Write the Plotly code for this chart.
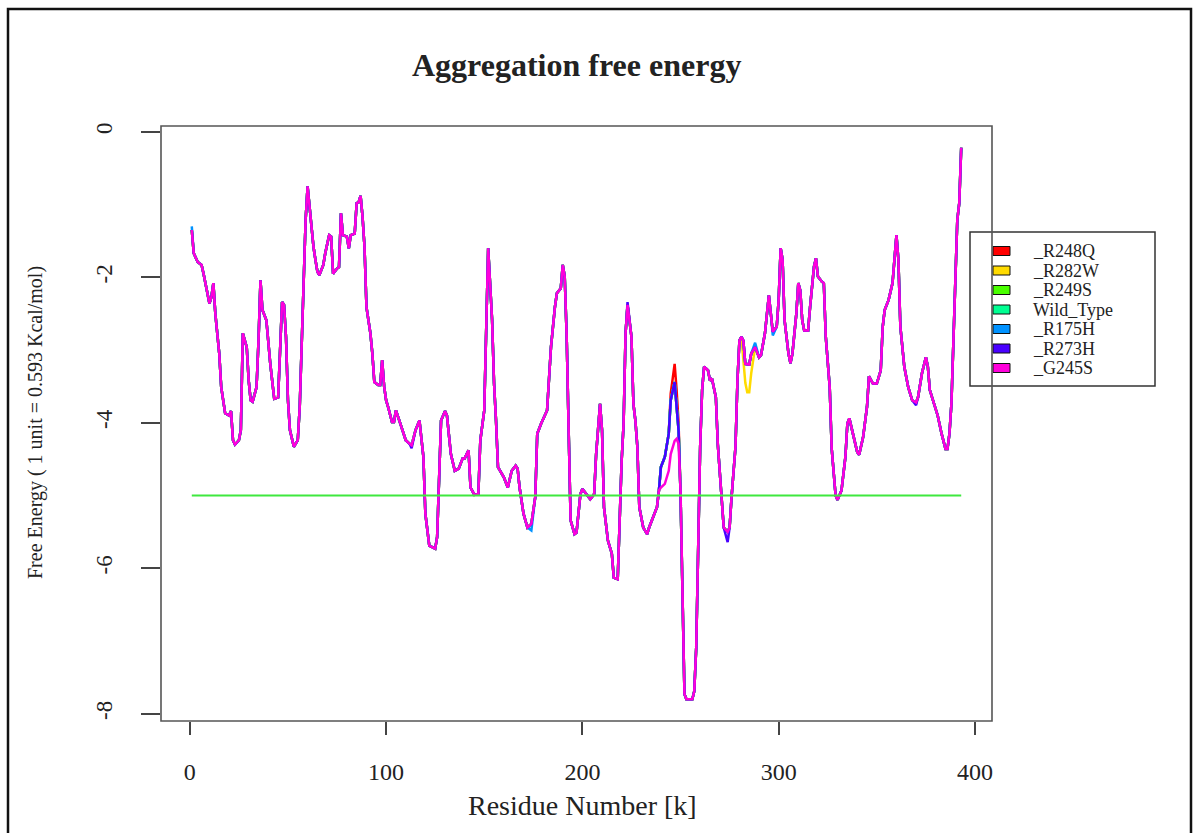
import plotly.graph_objects as go

# ---- data -------------------------------------------------------------
residue = [
    1, 2, 4, 6, 7, 10, 11, 12, 13, 15, 16, 18, 20, 21, 22, 23, 25, 26, 27, 28,
    29, 30, 31, 32, 34, 35, 36, 37, 39, 41, 43, 45, 46, 47, 48, 49, 50, 51, 53, 55,
    56, 57, 58, 59, 60, 61, 63, 64, 65, 66, 68, 69, 71, 72, 73, 75, 76, 77, 78, 80,
    81, 82, 84, 85, 86, 87, 88, 89, 90, 92, 93, 94, 96, 97, 98, 99, 100, 101, 103, 104,
    105, 107, 109, 110, 112, 113, 115, 117, 119, 120, 122, 125, 126, 127, 128, 130, 131, 133, 135, 137,
    139, 140, 142, 143, 145, 147, 148, 150, 151, 152, 154, 155, 156, 157, 160, 162, 164, 166, 167, 168,
    170, 172, 174, 176, 177, 179, 182, 183, 184, 186, 187, 189, 190, 191, 192, 193, 194, 196, 197, 199,
    200, 202, 204, 206, 207, 209, 210, 211, 213, 215, 216, 218, 219, 220, 221, 222, 223, 225, 226, 227,
    228, 229, 231, 233, 234, 236, 238, 239, 240, 242, 244, 245, 246, 247, 248, 249, 250, 251, 252, 253,
    256, 257, 258, 259, 260, 261, 262, 264, 265, 266, 268, 269, 271, 272, 274, 275, 276, 278, 279, 280,
    281, 282, 283, 284, 285, 286, 288, 290, 291, 293, 294, 295, 296, 297, 299, 300, 301, 302, 303, 305,
    306, 307, 309, 310, 311, 312, 313, 315, 316, 318, 319, 320, 322, 323, 324, 326, 327, 329, 330, 332,
    334, 335, 336, 338, 340, 341, 343, 345, 346, 348, 350, 352, 353, 354, 356, 358, 359, 360, 361, 362,
    364, 366, 368, 370, 371, 373, 375, 376, 377, 379, 381, 383, 385, 386, 387, 388, 389, 390, 391, 392,
    393,
]

# G245S profile (kcal units of 0.593)
energy_g245s = [
    -1.35, -1.67, -1.79, -1.83, -1.95, -2.36, -2.27, -2.08, -2.50, -3.05, -3.51, -3.87, -3.90, -3.84, -4.24, -4.30, -4.24, -4.10, -2.77, -2.87,
    -2.96, -3.42, -3.69, -3.71, -3.51, -2.87, -2.04, -2.45, -2.59, -3.19, -3.67, -3.65, -3.05, -2.34, -2.38, -2.82, -3.69, -4.10, -4.33, -4.24,
    -3.78, -2.82, -1.95, -1.21, -0.75, -1.03, -1.58, -1.76, -1.92, -1.97, -1.83, -1.67, -1.42, -1.44, -1.95, -1.88, -1.86, -1.12, -1.42, -1.44,
    -1.60, -1.42, -1.40, -0.98, -0.97, -0.88, -1.17, -1.58, -2.41, -2.77, -3.05, -3.44, -3.48, -3.48, -3.14, -3.50, -3.69, -3.78, -3.99, -3.99,
    -3.83, -3.99, -4.15, -4.24, -4.29, -4.31, -4.10, -3.97, -4.47, -5.25, -5.69, -5.73, -5.57, -4.79, -3.97, -3.84, -3.90, -4.43, -4.66, -4.63,
    -4.49, -4.49, -4.38, -4.89, -4.99, -4.98, -4.24, -3.83, -2.54, -1.60, -2.59, -3.46, -3.97, -4.61, -4.75, -4.89, -4.66, -4.59, -4.63, -4.89,
    -5.25, -5.44, -5.39, -5.02, -4.15, -4.01, -3.83, -3.42, -2.96, -2.41, -2.22, -2.15, -1.83, -1.99, -2.82, -4.10, -5.34, -5.53, -5.51, -4.98,
    -4.91, -4.98, -5.05, -4.98, -4.43, -3.74, -4.10, -5.16, -5.62, -5.80, -6.13, -6.15, -5.30, -4.52, -4.01, -2.77, -2.38, -2.82, -3.74, -3.97,
    -4.33, -5.16, -5.44, -5.53, -5.44, -5.30, -5.16, -4.93, -4.89, -4.84, -4.66, -4.43, -4.35, -4.25, -4.22, -4.29, -4.93, -6.17, -7.73, -7.80,
    -7.80, -7.69, -7.09, -5.71, -4.33, -3.55, -3.23, -3.28, -3.42, -3.39, -3.65, -4.30, -5.16, -5.44, -5.50, -5.44, -5.02, -4.33, -3.42, -2.87,
    -2.82, -2.87, -3.19, -3.20, -3.20, -3.05, -2.96, -3.10, -3.07, -2.77, -2.45, -2.25, -2.50, -2.75, -2.68, -2.31, -1.60, -1.76, -2.59, -3.05,
    -3.18, -3.05, -2.50, -2.08, -2.18, -2.59, -2.73, -2.73, -2.41, -1.85, -1.74, -1.99, -2.06, -2.08, -2.82, -3.51, -4.35, -5.00, -5.06, -4.93,
    -4.47, -4.01, -3.94, -4.15, -4.40, -4.44, -4.20, -3.78, -3.36, -3.46, -3.46, -3.28, -2.68, -2.45, -2.31, -2.08, -1.76, -1.42, -1.76, -2.68,
    -3.23, -3.51, -3.69, -3.72, -3.65, -3.32, -3.10, -3.23, -3.55, -3.74, -3.90, -4.15, -4.36, -4.36, -4.15, -3.74, -2.82, -1.90, -1.21, -0.98,
    -0.22,
]

# residues where the other variants leave the G245S profile
shared_240_250 = {240: -4.61, 242: -4.47, 244: -4.15, 245: -3.69, 246: -3.55,
                  247: -3.44, 248: -3.78, 249: -4.10, 250: -4.97}

variant_names = ["_R248Q", "_R282W", "_R249S", "Wild_Type", "_R175H", "_R273H", "_G245S"]
variant_colors = ["#FF0000", "#FFDB00", "#49FF00", "#00FF92", "#0092FF", "#4900FF", "#FF00DB"]

variant_changes = {
    "_R248Q": {**shared_240_250, 245: -3.60, 246: -3.40, 247: -3.19, 248: -3.55, 249: -4.00},
    "_R282W": {**shared_240_250, 282: -3.14, 283: -3.45, 284: -3.58, 285: -3.58, 286: -3.32},
    "_R249S": dict(shared_240_250),
    "Wild_Type": dict(shared_240_250),
    "_R175H": {**shared_240_250, 1: -1.30, 174: -5.48, 288: -2.90, 297: -2.80},
    "_R273H": {**shared_240_250, 113: -4.35, 223: -2.34, 274: -5.64, 370: -3.76},
    "_G245S": {},
}

threshold = -5.0

x_ticks = [0, 100, 200, 300, 400]
y_ticks = [-8, -6, -4, -2, 0]
y_tick_text = ["-8", "-6", "-4", "-2", "0"]

# ---- figure -------------------------------------------------------------
W, H = 1194, 833
L, R, T, B = 161, 992, 126, 721          # plot box in pixels


def px(xpix):
    return (xpix - L) / (R - L)


def py(ypix):
    return (B - ypix) / (B - T)


SERIF = "Liberation Serif, Times New Roman, serif"
INK = "#222222"

fig = go.Figure()

for name, color in zip(variant_names, variant_colors):
    changes = variant_changes[name]
    values = [changes.get(r, v) for r, v in zip(residue, energy_g245s)]
    fig.add_trace(go.Scatter(
        x=residue, y=values, mode="lines", name=name,
        line=dict(color=color, width=2.5), showlegend=False,
    ))

fig.add_trace(go.Scatter(
    x=[residue[0], residue[-1]], y=[threshold, threshold], mode="lines",
    line=dict(color="#3FE83F", width=1.8), showlegend=False,
))

shapes = []
annotations = []

# outer frame
shapes.append(dict(type="rect", xref="paper", yref="paper",
                   x0=px(8), x1=px(1191), y0=py(845), y1=py(9),
                   line=dict(color="#111111", width=2.5), fillcolor="rgba(0,0,0,0)",
                   layer="above"))

# legend
leg_x0, leg_x1, leg_y0, leg_y1 = 970, 1155, 232, 386
shapes.append(dict(type="rect", xref="paper", yref="paper",
                   x0=px(leg_x0), x1=px(leg_x1), y0=py(leg_y1), y1=py(leg_y0),
                   line=dict(color="#333333", width=1.5), fillcolor="white",
                   layer="above"))
row0, row_step = 251, 19.5
for i, (name, color) in enumerate(zip(variant_names, variant_colors)):
    yc = row0 + i * row_step
    shapes.append(dict(type="rect", xref="paper", yref="paper",
                       x0=px(993), x1=px(1010), y0=py(yc + 4.5), y1=py(yc - 4.5),
                       line=dict(color="#111111", width=1), fillcolor=color,
                       layer="above"))
    annotations.append(dict(text=name, xref="paper", yref="paper",
                            x=px(1031), y=py(yc), xanchor="left", yanchor="middle",
                            showarrow=False, font=dict(family=SERIF, size=18, color=INK)))

# plot box, drawn over the legend frame
shapes.append(dict(type="rect", xref="paper", yref="paper",
                   x0=0, x1=1, y0=0, y1=1,
                   line=dict(color="#555555", width=1.6), fillcolor="rgba(0,0,0,0)",
                   layer="above"))

# titles
annotations.append(dict(text="<b>Aggregation free energy</b>", xref="paper", yref="paper",
                        x=px(576), y=py(65), xanchor="center", yanchor="middle",
                        showarrow=False, font=dict(family=SERIF, size=32, color=INK)))
annotations.append(dict(text="Residue Number [k]", xref="paper", yref="paper",
                        x=px(582), y=py(805), xanchor="center", yanchor="middle",
                        showarrow=False, font=dict(family=SERIF, size=28, color=INK)))
annotations.append(dict(text="Free Energy ( 1 unit = 0.593 Kcal/mol)", xref="paper", yref="paper",
                        x=px(35), y=py(423), xanchor="center", yanchor="middle", textangle=-90,
                        showarrow=False, font=dict(family=SERIF, size=20, color=INK)))

fig.update_layout(
    width=W, height=H,
    margin=dict(l=L, r=W - R, t=T, b=H - B, pad=0),
    paper_bgcolor="white", plot_bgcolor="white",
    shapes=shapes, annotations=annotations,
    showlegend=False,
)
fig.update_xaxes(
    range=[-14.68, 408.68], showgrid=False, zeroline=False, showline=False,
    tickmode="array", tickvals=x_ticks, ticktext=[str(t) for t in x_ticks],
    ticks="outside", ticklen=13, tickwidth=1.5, tickcolor="#444444",
    ticklabelstandoff=16,
    tickfont=dict(family=SERIF, size=24, color=INK),
)
fig.update_yaxes(
    range=[-8.1, 0.08], showgrid=False, zeroline=False, showline=False,
    tickmode="array", tickvals=y_ticks, ticktext=y_tick_text,
    ticks="outside", ticklen=19, tickwidth=1.5, tickcolor="#444444",
    tickangle=-90, ticklabelstandoff=20,
    tickfont=dict(family=SERIF, size=23, color=INK),
)

fig.write_html("out.html")
